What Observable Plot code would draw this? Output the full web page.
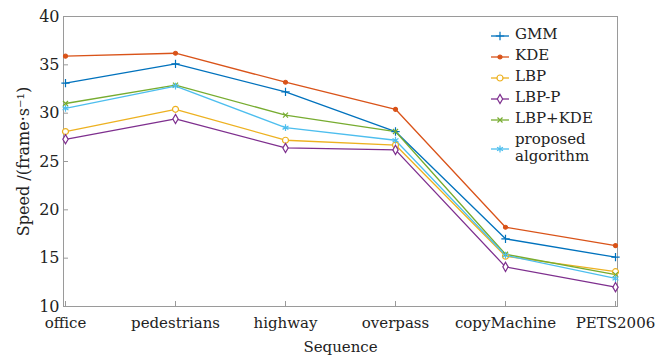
<!DOCTYPE html>
<html><head><meta charset="utf-8">
<script src="https://cdn.jsdelivr.net/npm/d3@7"></script>
<script src="https://cdn.jsdelivr.net/npm/@observablehq/plot@0.6"></script>
<style>
body{margin:0;background:#fff;}
#wrap{position:relative;width:664px;height:358px;}
#legend{position:absolute;left:486px;top:25px;font-family:"DejaVu Serif",serif;font-size:15px;color:#222;line-height:1.15;}
.item{position:relative;height:21px;}
.item svg{position:absolute;left:0;top:0;}
.item span{position:absolute;left:29px;top:1px;white-space:nowrap;}
</style></head>
<body><div id="wrap"><div id="chart"></div><div id="legend"></div></div>
<script>
const sequences = ["office","pedestrians","highway","overpass","copyMachine","PETS2006"];
const seriesNames = ["GMM","KDE","LBP","LBP-P","LBP+KDE","proposed algorithm"];
const GMM      = [33.1, 35.1, 32.2, 28.1, 17.0, 15.1];
const KDE      = [35.9, 36.2, 33.2, 30.4, 18.2, 16.3];
const LBP      = [28.1, 30.4, 27.2, 26.7, 15.2, 13.6];
const LBP_P    = [27.3, 29.4, 26.4, 26.2, 14.1, 12.0];
const LBP_KDE  = [31.0, 32.9, 29.8, 28.1, 15.4, 13.3];
const PROPOSED = [30.5, 32.8, 28.5, 27.2, 15.3, 12.9];
const yTicks = [10,15,20,25,30,35,40];
const colors = ["#0072BD","#D95319","#EDB120","#7E2F8E","#77AC30","#4DBEEE"];
const symbols = ["plus","circle","circle","diamond","times","asterisk"];
const filled = [false,true,false,false,false,false];
const sizes = [2.8,2,3,2.8,2.4,3.2];

const allVals = [GMM,KDE,LBP,LBP_P,LBP_KDE,PROPOSED];
const rows = [];
seriesNames.forEach((s,i)=>sequences.forEach((q,j)=>rows.push({series:s, seq:q, v:allVals[i][j]})));

const font = "'DejaVu Serif', serif";
const marks = [
  Plot.frame({stroke:"#9a9a9a"}),
  Plot.axisY({ticks:yTicks, tickSize:-5, tickPadding:9, stroke:"#9a9a9a", fontSize:16, label:"Speed /(frame·s⁻¹)", labelAnchor:"center", labelArrow:"none", labelOffset:46}),
  Plot.axisX({tickSize:-5, tickPadding:16, stroke:"#9a9a9a", fontSize:15, label:"Sequence", labelAnchor:"center", labelArrow:"none", labelOffset:45}),
  Plot.line(rows, {x:"seq", y:"v", z:"series", stroke:"series", strokeWidth:1.3})
];
seriesNames.forEach((s,i)=>{
  marks.push(Plot.dot(rows.filter(d=>d.series===s), {x:"seq", y:"v", symbol:()=>symbols[i], r:sizes[i], stroke:colors[i], fill: filled[i]?colors[i]:"white", strokeWidth:1.2}));
});

const chart = Plot.plot({
  width:664, height:358,
  marginLeft:63, marginRight:47, marginTop:16, marginBottom:52,
  style:{fontFamily:font, fontSize:"15px", color:"#222", background:"white"},
  x:{type:"point", domain:sequences, padding:0, label:"Sequence"},
  y:{domain:[10,40], label:"Speed /(frame·s⁻¹)"},
  color:{domain:seriesNames, range:colors},
  symbol:{type:"identity"},
  marks
});
chart.setAttribute("font-family", "DejaVu Serif, serif");
document.getElementById("chart").appendChild(chart);

const symMap = {plus:d3.symbolPlus,circle:d3.symbolCircle,diamond:d3.symbolDiamond,times:d3.symbolTimes,asterisk:d3.symbolAsterisk};
const lg = document.getElementById("legend");
seriesNames.forEach((s,i)=>{
  const div = document.createElement("div");
  div.className="item";
  const label = s==="proposed algorithm" ? "proposed<br>algorithm" : s;
  if (s==="proposed algorithm") div.style.height="40px";
  const cy = s==="proposed algorithm" ? 19 : 11;
  const sym = d3.symbol(symMap[symbols[i]], Math.PI*sizes[i]*sizes[i])();
  div.innerHTML = `<svg width="26" height="${cy*2}"><line x1="5" x2="23" y1="${cy}" y2="${cy}" stroke="${colors[i]}" stroke-width="1.3"/><path d="${sym}" transform="translate(14,${cy})" stroke="${colors[i]}" fill="${filled[i]?colors[i]:'white'}" stroke-width="1.2"/></svg><span>${label}</span>`;
  lg.appendChild(div);
});
</script></body></html>
